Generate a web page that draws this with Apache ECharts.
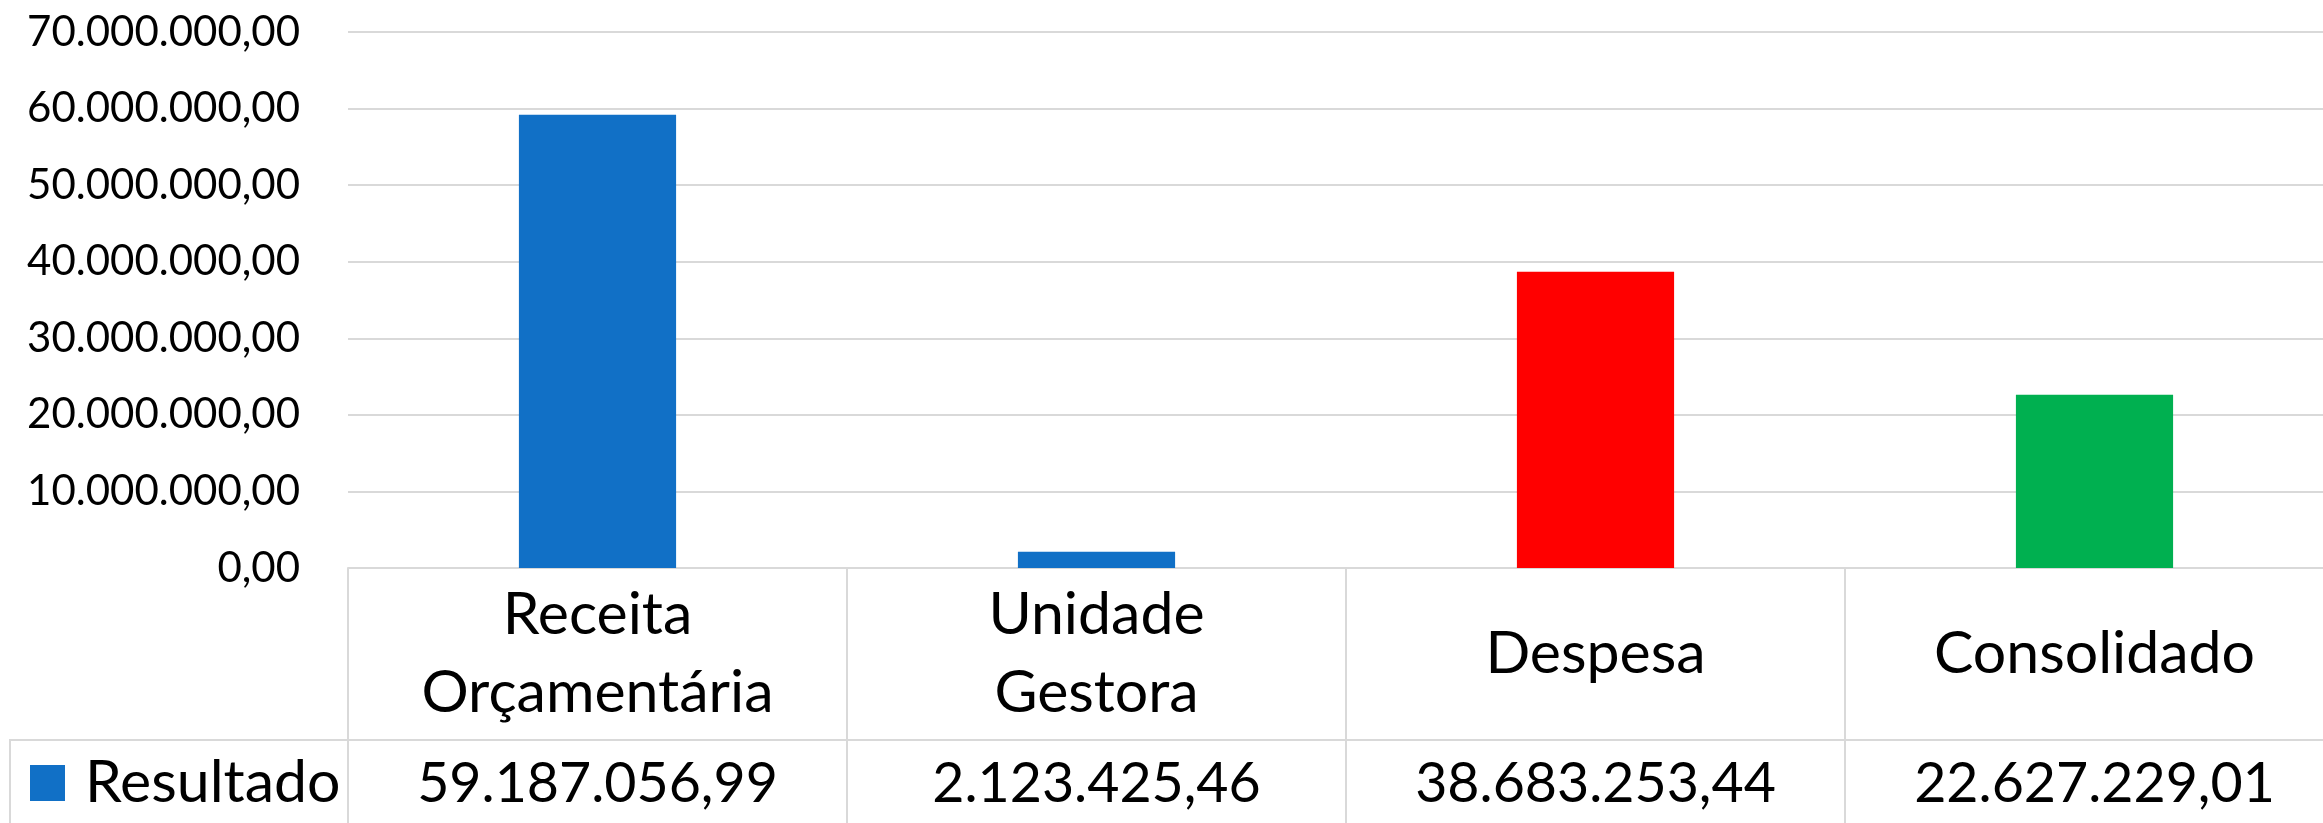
<!DOCTYPE html>
<html>
<head>
<meta charset="utf-8">
<script src="https://cdn.jsdelivr.net/npm/echarts@6/dist/echarts.min.js"></script>
<style>
html,body{margin:0;padding:0;background:#fff;}
#c{width:2323px;height:823px;}
</style>
</head>
<body>
<div id="c"></div>
<script>
var categories = ['Receita\nOrçamentária', 'Unidade\nGestora', 'Despesa', 'Consolidado'];
var seriesName = 'Resultado';
var values = [59187056.99, 2123425.46, 38683253.44, 22627229.01];
var barColors = ['#1170c6', '#1170c6', '#ff0000', '#00b050'];
var yTicks = { min: 0, max: 70000000, interval: 10000000 };

function fmtBR(v) {
  var neg = v < 0; v = Math.abs(v);
  var s = v.toFixed(2);
  var parts = s.split('.');
  var ip = parts[0].replace(/\B(?=(\d{3})+(?!\d))/g, '.');
  return (neg ? '-' : '') + ip + ',' + parts[1];
}

var FONT = 'Lato';
var GRID_LEFT = 348, AXIS_Y = 568, ROW_Y = 740, H = 823;
var border = '#d9d9d9';

var chart = echarts.init(document.getElementById('c'), null, { renderer: 'canvas' });
chart.setOption({
  animation: false,
  backgroundColor: '#fff',
  textStyle: { fontFamily: FONT },
  grid: { left: GRID_LEFT, width: 1996, top: 32, bottom: H - AXIS_Y, containLabel: false, outerBoundsMode: 'none' },
  legend: {
    data: [seriesName],
    left: 30, top: 752,
    padding: 0,
    icon: 'rect',
    itemWidth: 35, itemHeight: 36,
    textStyle: { fontFamily: FONT, fontSize: 59, color: '#000', lineHeight: 62, padding: [0, 0, 0, 15] },
    selectedMode: false
  },
  xAxis: [{
    type: 'category',
    data: categories,
    position: 'bottom',
    axisLine: { show: true, lineStyle: { color: border, width: 2 } },
    axisTick: { show: true, interval: 0, length: H - AXIS_Y, lineStyle: { color: border, width: 2 } },
    axisLabel: {
      interval: 0, margin: 86, verticalAlign: 'middle',
      fontFamily: FONT, fontSize: 59, lineHeight: 78, color: '#000', align: 'center'
    },
    splitLine: { show: false }
  }, {
    type: 'category',
    data: categories,
    position: 'bottom',
    offset: ROW_Y - AXIS_Y,
    axisLine: { show: true, lineStyle: { color: border, width: 2 } },
    axisTick: { show: false },
    axisLabel: {
      interval: 0, margin: 44, verticalAlign: 'middle',
      fontFamily: FONT, fontSize: 55.5, color: '#000',
      formatter: function (v, i) { return fmtBR(values[i]); }
    },
    splitLine: { show: false }
  }],
  yAxis: {
    type: 'value',
    min: yTicks.min, max: yTicks.max, interval: yTicks.interval,
    axisLine: { show: false },
    axisTick: { show: false },
    axisLabel: { margin: 48, fontFamily: FONT, fontSize: 42, color: '#000', formatter: function (v) { return fmtBR(v); } },
    splitLine: { show: true, lineStyle: { color: border, width: 2 } }
  },
  series: [{
    name: seriesName,
    type: 'bar',
    xAxisIndex: 0,
    barWidth: '31.5%',
    itemStyle: { color: barColors[0] },
    data: values.map(function (v, i) { return { value: v, itemStyle: { color: barColors[i] } }; })
  }],
  graphic: [{
    type: 'polyline',
    silent: true,
    shape: { points: [[10, H + 5], [10, ROW_Y], [GRID_LEFT, ROW_Y]] },
    style: { stroke: border, lineWidth: 2, fill: null }
  }]
});
</script>
</body>
</html>
